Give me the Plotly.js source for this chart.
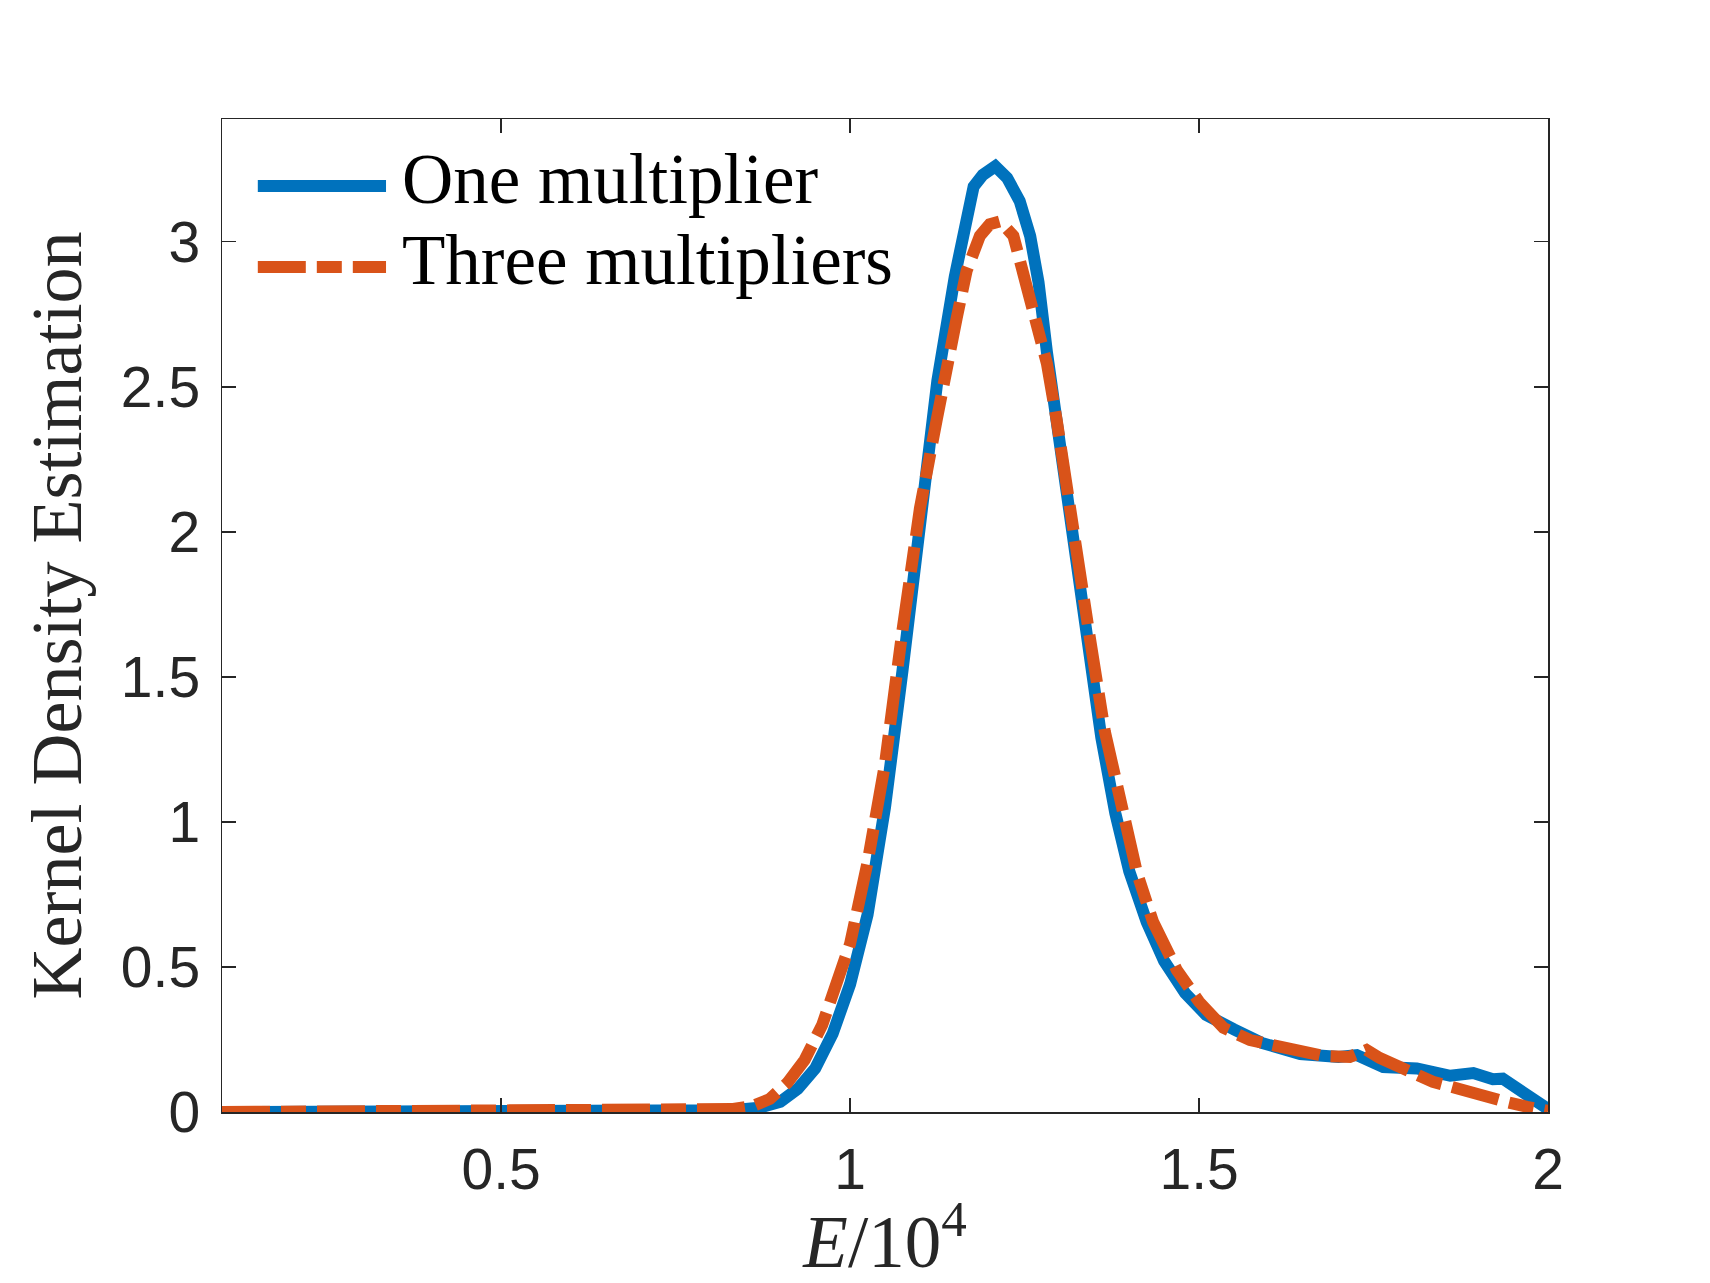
<!DOCTYPE html>
<html>
<head>
<meta charset="utf-8">
<script src="https://cdn.plot.ly/plotly-3.0.1.min.js"></script>
<style>
  html, body { margin: 0; padding: 0; background: #ffffff; }
  #chart { width: 1710px; height: 1283px; }
</style>
</head>
<body>
<div id="chart"></div>
<script>
// ---- Data ----
var seriesNames = ["One multiplier", "Three multipliers"];

var oneX = [0.1, 0.3, 0.5, 0.7, 0.78, 0.83, 0.87, 0.9, 0.925, 0.95, 0.975, 1.0, 1.025, 1.05, 1.075, 1.1, 1.125, 1.15, 1.167, 1.177, 1.19, 1.208, 1.225, 1.243, 1.258, 1.27, 1.282, 1.3, 1.32, 1.34, 1.36, 1.38, 1.4, 1.425, 1.45, 1.48, 1.51, 1.55, 1.59, 1.645, 1.7, 1.726, 1.745, 1.764, 1.812, 1.86, 1.893, 1.921, 1.935, 1.964, 1.98, 2.0];
var oneY = [0, 0, 0, 0, 0.002, 0.006, 0.015, 0.035, 0.08, 0.15, 0.27, 0.44, 0.68, 1.05, 1.52, 2.06, 2.52, 2.88, 3.1, 3.19, 3.23, 3.26, 3.22, 3.14, 3.02, 2.86, 2.62, 2.3, 1.95, 1.61, 1.29, 1.03, 0.83, 0.655, 0.52, 0.41, 0.335, 0.285, 0.238, 0.2, 0.19, 0.196, 0.18, 0.155, 0.15, 0.125, 0.134, 0.113, 0.115, 0.07, 0.045, 0.01];

var threeX = [0.1, 0.3, 0.5, 0.7, 0.78, 0.83, 0.86, 0.885, 0.91, 0.935, 0.96, 0.985, 1.0, 1.025, 1.05, 1.075, 1.1, 1.124, 1.138, 1.153, 1.167, 1.186, 1.2, 1.215, 1.234, 1.248, 1.267, 1.282, 1.296, 1.322, 1.344, 1.365, 1.387, 1.411, 1.434, 1.468, 1.5, 1.535, 1.573, 1.62, 1.678, 1.716, 1.74, 1.759, 1.797, 1.835, 1.869, 1.907, 1.94, 1.97, 2.0];
var threeY = [0, 0, 0, 0, 0.004, 0.01, 0.02, 0.045, 0.1, 0.18, 0.3, 0.47, 0.58, 0.86, 1.2, 1.66, 2.08, 2.385, 2.58, 2.74, 2.9, 3.02, 3.06, 3.07, 3.02, 2.9, 2.74, 2.58, 2.385, 1.944, 1.627, 1.311, 1.058, 0.825, 0.656, 0.49, 0.38, 0.29, 0.248, 0.22, 0.193, 0.19, 0.214, 0.186, 0.145, 0.104, 0.082, 0.053, 0.035, 0.018, 0.004];

var xTickVals = [0.5, 1, 1.5, 2];
var xTickText = ["0.5", "1", "1.5", "2"];
var yTickVals = [0, 0.5, 1, 1.5, 2, 2.5, 3];
var yTickText = ["0", "0.5", "1", "1.5", "2", "2.5", "3"];

// ---- Styling ----
var BLUE = "#0072BD";
var ORANGE = "#D95319";
var AXC = "#262626";
var LW = 12;
var DASH = "48px,11px,25px,11px";
var serif = "'Liberation Serif', 'Times New Roman', serif";
var sans = "'Liberation Sans', Arial, Helvetica, sans-serif";

var traces = [
  { x: oneX, y: oneY, type: "scatter", mode: "lines", name: seriesNames[0],
    line: { color: BLUE, width: LW }, showlegend: false, hoverinfo: "skip" },
  { x: threeX, y: threeY, type: "scatter", mode: "lines", name: seriesNames[1],
    line: { color: ORANGE, width: LW, dash: DASH }, showlegend: false, hoverinfo: "skip" }
];

// legend drawn as shapes + text (long legend lines as in the reference)
var legX0 = 0.027, legX1 = 0.1237, legTextX = 0.1342;
var legY = [0.9325, 0.851];
var shapes = [
  { type: "line", xref: "paper", yref: "paper", x0: legX0, x1: legX1, y0: legY[0], y1: legY[0],
    line: { color: BLUE, width: LW } },
  { type: "line", xref: "paper", yref: "paper", x0: legX0, x1: legX1, y0: legY[1], y1: legY[1],
    line: { color: ORANGE, width: LW, dash: DASH } }
];
var annotations = seriesNames.map(function (n, i) {
  return { xref: "paper", yref: "paper", x: legTextX, y: legY[i], xanchor: "left", yanchor: "middle",
    yshift: 7, text: n, showarrow: false, font: { family: serif, size: 71, color: "#000000" } };
});

var axisCommon = {
  showgrid: false, zeroline: false, showline: true, linecolor: AXC, linewidth: 1.5,
  mirror: "ticks", ticks: "inside", ticklen: 14, tickwidth: 1.5, tickcolor: AXC,
  tickfont: { family: sans, size: 57, color: AXC }, fixedrange: true
};

var layout = {
  width: 1710, height: 1283,
  margin: { l: 222, r: 162, t: 119, b: 171, pad: 0 },
  paper_bgcolor: "#ffffff", plot_bgcolor: "#ffffff",
  showlegend: false,
  xaxis: Object.assign({}, axisCommon, {
    range: [0.1, 2], tickvals: xTickVals, ticktext: xTickText,
    ticklabelstandoff: 7,
    title: { text: "<i>E</i>/10<sup>4</sup>", font: { family: serif, size: 73, color: AXC }, standoff: 12 },
    automargin: false
  }),
  yaxis: Object.assign({}, axisCommon, {
    range: [0, 3.423], tickvals: yTickVals, ticktext: yTickText,
    ticklabelstandoff: 9,
    title: { text: "Kernel Density Estimation", font: { family: serif, size: 72, color: AXC }, standoff: 15 },
    automargin: false
  }),
  shapes: shapes,
  annotations: annotations
};

Plotly.newPlot("chart", traces, layout, { staticPlot: true, displayModeBar: false });
</script>
</body>
</html>
